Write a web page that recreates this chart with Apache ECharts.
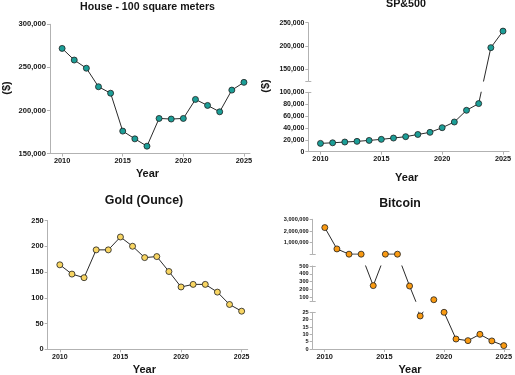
<!DOCTYPE html>
<html><head><meta charset="utf-8">
<script src="https://cdn.jsdelivr.net/npm/echarts@6/dist/echarts.min.js"></script>
<style>html,body{margin:0;padding:0;background:#fff}#c{width:515px;height:375px}</style>
</head><body><div id="c"></div>
<script>
// ---------- data ----------
const years = [2010,2011,2012,2013,2014,2015,2016,2017,2018,2019,2020,2021,2022,2023,2024,2025];
const yearTicks = [2010, 2015, 2020, 2025];

const houseValues = [272000,258500,249000,227500,220000,176000,167000,158500,190700,190000,190700,212800,205800,198400,223600,232600];
const houseTicks = [150000, 200000, 250000, 300000];

const spValues = [14000,15000,16300,17400,19000,20800,23000,25300,29000,32600,40400,50000,69700,81000,196500,232000];
const spLowTicks = [0, 20000, 40000, 60000, 80000, 100000];
const spHighTicks = [150000, 200000, 250000];

const goldValues = [164,146,139,193,193,218,200,178,180,151,121,126,126,111,87,74];
const goldTicks = [0, 50, 100, 150, 200, 250];

const btcValues = [2290000,460000,10000,10000,250,10000,10000,245,22.5,70,25,6.8,5.7,10,5.5,2.3];
const btcLowTicks = [0, 5, 10, 15, 20, 25];
const btcMidTicks = [100, 200, 300, 400, 500];
const btcTopTicks = [1000000, 2000000, 3000000];

// ---------- style / layout ----------
const FONT = '"Liberation Sans", Arial, sans-serif';
const AXIS = '#b2b2b2';
const INK = '#151515';
const fmt = v => String(v).replace(/\B(?=(\d{3})+(?!\d))/g, ',');

const panels = [
  { values: houseValues, color: '#1c9e97', left: 50, width: 200, yLabelSize: 7.6, xLabelSize: 7.4,
    segments: [{ min: 150000, max: 300000, ticks: houseTicks, top: 24.3, bottom: 153.5 }],
    title: { text: 'House - 100 square meters', x: 147.5, y: 7, size: 10.6 },
    yName: { x: 7, y: 88 }, xName: { x: 147.5, y: 174.3 } },
  { values: spValues, color: '#1c9e97', left: 308.3, width: 200.8, yLabelSize: 6.9, xLabelSize: 7.3,
    segments: [{ min: 0, max: 100000, ticks: spLowTicks, top: 92.3, bottom: 151.7 },
               { min: 125000, max: 250000, ticks: spHighTicks, top: 22.7, bottom: 81 }],
    title: { text: 'SP&500', x: 406, y: 4.5, size: 10.7 },
    yName: { x: 266, y: 86 }, xName: { x: 406.7, y: 178 } },
  { values: goldValues, color: '#f8d562', left: 47.7, width: 200, yLabelSize: 7.4, xLabelSize: 7,
    segments: [{ min: 0, max: 250, ticks: goldTicks, top: 220.5, bottom: 349.3 }],
    title: { text: 'Gold (Ounce)', x: 144, y: 201, size: 12.4 },
    yName: null, xName: { x: 144.3, y: 370 } },
  { values: btcValues, color: '#f99a12', left: 312.7, width: 199.8, yLabelSize: 5.6, xLabelSize: 7.4,
    segments: [{ min: 0, max: 25, ticks: btcLowTicks, top: 312.3, bottom: 349 },
               { min: 50, max: 500, ticks: btcMidTicks, top: 266, bottom: 301.3 },
               { min: 0, max: 3000000, ticks: btcTopTicks, top: 219.3, bottom: 254.3 }],
    title: { text: 'Bitcoin', x: 400, y: 204, size: 12.3 },
    yName: null, xName: { x: 410, y: 369.5 } }
];

const chart = echarts.init(document.getElementById('c'), null, { renderer: 'canvas' });
const option = { animation: false, grid: [], xAxis: [], yAxis: [], series: [], graphic: [] };

panels.forEach(p => {
  p.refs = [];
  p.segments.forEach((s, si) => {
    const gi = option.grid.length;
    option.grid.push({ left: p.left, width: p.width, top: s.top, height: s.bottom - s.top });
    const isBottom = si === 0;
    const capLow = si > 0, capHigh = si < p.segments.length - 1;
    const xi = option.xAxis.length;
    option.xAxis.push({
      gridIndex: gi, type: 'value', min: 2009, max: 2025.5, show: isBottom,
      axisLine: { show: true, lineStyle: { color: AXIS, width: 1 } },
      axisTick: { show: true, customValues: yearTicks, length: 3, lineStyle: { color: AXIS } },
      axisLabel: { customValues: yearTicks, formatter: v => String(v), margin: 4,
        fontSize: p.xLabelSize, fontWeight: 'bold', color: INK, fontFamily: FONT },
      splitLine: { show: false }
    });
    const tickVals = s.ticks.slice();
    if (capLow && !tickVals.includes(s.min)) tickVals.push(s.min);
    if (capHigh && !tickVals.includes(s.max)) tickVals.push(s.max);
    if (!tickVals.includes(s.min)) tickVals.push(s.min);
    const ri = option.yAxis.length;
    option.yAxis.push({
      gridIndex: gi, type: 'value', min: s.min, max: s.max, position: 'left',
      axisLine: { show: true, lineStyle: { color: AXIS, width: 1 } },
      axisTick: { show: true, customValues: tickVals, length: 3, lineStyle: { color: AXIS } },
      axisLabel: { customValues: s.ticks, formatter: fmt, margin: 4,
        fontSize: p.yLabelSize, fontWeight: 'bold', color: INK, fontFamily: FONT },
      splitLine: { show: false }
    });
    const di = option.yAxis.length;
    const capVals = [];
    if (capLow) capVals.push(-s.bottom);
    if (capHigh) capVals.push(-s.top);
    option.yAxis.push({
      gridIndex: gi, type: 'value', min: -s.bottom, max: -s.top, position: 'left',
      axisLine: { show: false }, axisLabel: { show: false }, splitLine: { show: false },
      axisTick: { show: capVals.length > 0, inside: true, customValues: capVals, length: 3,
        lineStyle: { color: AXIS } }
    });
    p.refs.push({ xi, ri, di });
  });
  const txt = (text, x, y, size, rot) => option.graphic.push({
    type: 'text', x, y, rotation: rot || 0, silent: true,
    style: { text, fontSize: size, fontWeight: 'bold', fontFamily: FONT, fill: INK,
      align: 'center', verticalAlign: 'middle' }
  });
  txt(p.title.text, p.title.x, p.title.y, p.title.size);
  txt('Year', p.xName.x, p.xName.y, 11);
  if (p.yName) txt('($)', p.yName.x, p.yName.y, 11, Math.PI / 2);
});

chart.setOption(option);

// Draw the lines in display space (as broken axes do): each value is placed by
// the axis of the segment it belongs to, and each segment clips what falls outside it.
const series = [];
panels.forEach(p => {
  const disp = p.values.map(v => {
    let si = p.segments.findIndex(s => v <= s.max);
    if (si < 0) si = p.segments.length - 1;
    return -chart.convertToPixel({ yAxisIndex: p.refs[si].ri }, v);
  });
  p.refs.forEach(r => series.push({
    type: 'line', xAxisIndex: r.xi, yAxisIndex: r.di, clip: true, silent: true,
    data: years.map((y, i) => [y, disp[i]]),
    symbol: 'circle', symbolSize: 6,
    itemStyle: { color: p.color, borderColor: '#1e1e1e', borderWidth: 0.8 },
    lineStyle: { color: '#2a2a2a', width: 1 }
  }));
});
chart.setOption({ series });
</script>
</body></html>
